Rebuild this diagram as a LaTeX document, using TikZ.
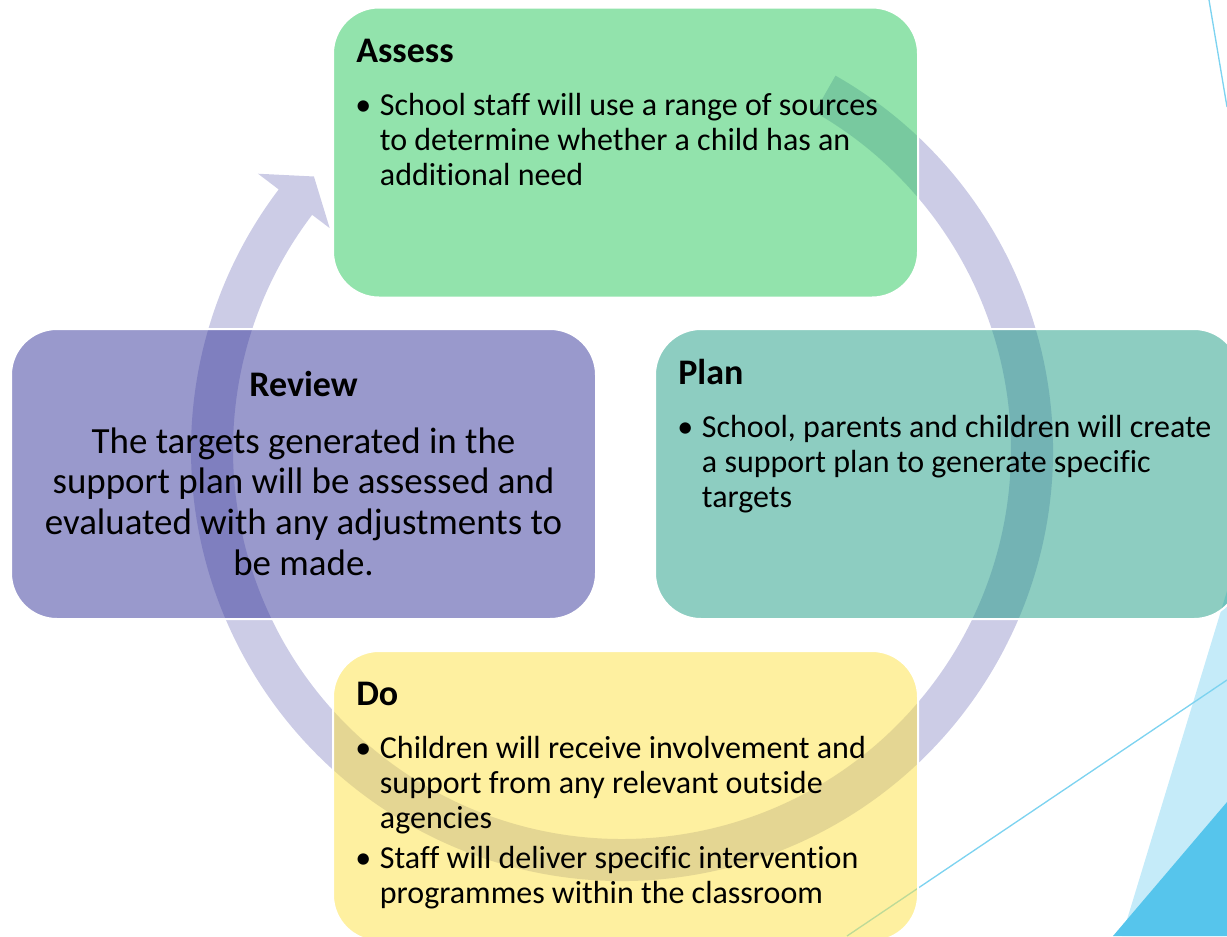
\documentclass[tikz,border=0pt]{standalone}
\usepackage{fontspec}
\setmainfont{Carlito}[Ligatures=NoCommon]
\usetikzlibrary{calc}
\definecolor{assessC}{RGB}{37,199,89}
\definecolor{planC}{RGB}{27,155,131}
\definecolor{reviewC}{RGB}{51,51,153}
\definecolor{doC}{RGB}{253,225,65}
\definecolor{ringC}{RGB}{204,204,230}
\definecolor{lightBlue}{RGB}{197,235,249}
\definecolor{darkBlue}{RGB}{86,197,236}
\definecolor{lineBlue}{RGB}{125,211,240}
\begin{document}
\begin{tikzpicture}[x=0.75pt,y=-0.75pt,
  box/.style={draw=white, line width=1.5pt, fill opacity=0.5, rounded corners=34.5pt,
    minimum width=438.75pt, minimum height=217.5pt, inner sep=0pt},
  head/.style={font=\fontsize{27}{30}\selectfont\bfseries, inner sep=0pt},
  body/.style={font=\fontsize{24}{26.25}\selectfont, inner sep=0pt},
  rbody/.style={font=\fontsize{27.7}{30.5}\selectfont, inner sep=0pt},
  ringstyle/.style={fill=ringC},
  deco/.style={draw=lineBlue, line width=1pt}]
\clip (0,0) rectangle (1227,936);
% decorative shapes
\fill[lightBlue] (1227,591) -- (1122,936) -- (1227,936) -- cycle;
\fill[darkBlue] (1227,802) -- (1113,936) -- (1227,936) -- cycle;
\coordinate (l1a) at (1227,680);
\coordinate (l1b) at (847,936);
\coordinate (l2a) at (1209,0);
\coordinate (l2b) at (1227,107);
\draw[deco] (l1a) -- (l1b);
\draw[deco] (l2a) -- (l2b);
% circular arrow
\coordinate (C) at (622,450);
\fill[ringstyle] ($(C)+(-60.3:431)$) arc[start angle=-60.3, end angle=217.2, radius=431]
  -- ($(C)+(217.2:457)$) -- ($(C)+(221.6:412)$) -- ($(C)+(217.2:367)$)
  -- ($(C)+(217.2:389)$) arc[start angle=217.2, end angle=-60.3, radius=389] -- cycle;
% boxes
\node[box, fill=assessC] (assess) at (625.5,152.5) {};
\node[box, fill=planC] (plan) at (947.5,474) {};
\node[box, fill=reviewC] (review) at (303.5,474) {};
\node[box, fill=doC] (do) at (625.5,796) {};
% texts
\node[head, anchor=base west] (assessH) at (356,62) {Assess};
\node[body, anchor=base west] (assessB) at (355,115) {\begin{tabular}[t]{@{}p{18.5pt}@{}l@{}}
\textbullet & School staff will use a range of sources\\
 & to determine whether a child has an\\
 & additional need\end{tabular}};
\node[head, anchor=base west] (planH) at (678,384) {Plan};
\node[body, anchor=base west] (planB) at (677,437) {\begin{tabular}[t]{@{}p{18.5pt}@{}l@{}}
\textbullet & School, parents and children will create\\
 & a support plan to generate specific\\
 & targets\end{tabular}};
\node[head, anchor=base] (reviewH) at (303.5,396) {Review};
\node[rbody, anchor=base] (reviewB) at (303.5,453) {\begin{tabular}[t]{@{}c@{}}
The targets generated in the\\
support plan will be assessed and\\
evaluated with any adjustments to\\
be made.\end{tabular}};
\node[head, anchor=base west] (doH) at (356,705) {Do};
\node[body, anchor=base west] (doB) at (355,758) {\begin{tabular}[t]{@{}p{18.5pt}@{}l@{}}
\textbullet & Children will receive involvement and\\
 & support from any relevant outside\\
 & agencies\\[3.75pt]
\textbullet & Staff will deliver specific intervention\\
 & programmes within the classroom\end{tabular}};
\end{tikzpicture}
\end{document}
